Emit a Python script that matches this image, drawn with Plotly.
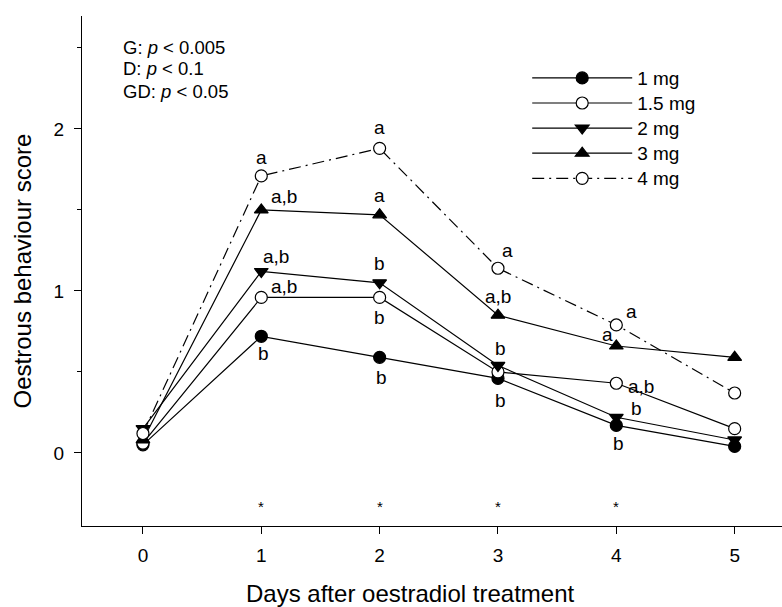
import plotly.graph_objects as go

days = [0, 1, 2, 3, 4, 5]
series_names = ["1 mg", "1.5 mg", "2 mg", "3 mg", "4 mg"]
v_1mg = [0.05, 0.72, 0.59, 0.46, 0.17, 0.04]
v_15mg = [0.06, 0.96, 0.96, 0.50, 0.43, 0.15]
v_2mg = [0.15, 1.12, 1.05, 0.54, 0.22, 0.08]
v_3mg = [0.08, 1.50, 1.47, 0.85, 0.66, 0.59]
v_4mg = [0.12, 1.71, 1.88, 1.14, 0.79, 0.37]

# significance letters (day -> label) for each series
lab_1mg = {1: "b", 2: "b", 3: "b", 4: "b"}
lab_15mg = {1: "a,b", 2: "b", 4: "a,b"}
lab_2mg = {1: "a,b", 2: "b", 3: "b", 4: "b"}
lab_3mg = {1: "a,b", 2: "a", 3: "a,b", 4: "a"}
lab_4mg = {1: "a", 2: "a", 3: "a", 4: "a"}
star_days = [1, 2, 3, 4]
star_level = -0.33
stats_lines = ["G: <i>p</i> < 0.005", "D: <i>p</i> < 0.1", "GD: <i>p</i> < 0.05"]
x_title = "Days after oestradiol treatment"
y_title = "Oestrous behaviour score"

FONT = "Liberation Sans, Arial, sans-serif"

fig = go.Figure()

styles = [
    dict(symbol="circle", fill="black", dash="solid"),
    dict(symbol="circle", fill="white", dash="solid"),
    dict(symbol="triangle-down", fill="black", dash="solid"),
    dict(symbol="triangle-up", fill="black", dash="solid"),
    dict(symbol="circle", fill="white", dash="12px,5px,2px,5px"),
]
values = [v_1mg, v_15mg, v_2mg, v_3mg, v_4mg]

for name, vals, st in zip(series_names, values, styles):
    fig.add_trace(go.Scatter(
        x=days, y=vals,
        name="<span style='font-size:19px'>" + name + "</span>",
        mode="lines+markers",
        line=dict(color="black", width=1.2, dash=st["dash"]),
        marker=dict(symbol=st["symbol"], size=12, color=st["fill"],
                    line=dict(color="black", width=1.2)),
    ))

# letter offsets (px) relative to the point
offsets = {
    "1mg": {1: (2, -17), 2: (2, -20), 3: (3, -22), 4: (2, -18)},
    "15mg": {1: (23, 11), 2: (0, -20), 4: (25, -3)},
    "2mg": {1: (15, 15), 2: (0, 19), 3: (3, 17), 4: (20, 9)},
    "3mg": {1: (23, 13), 2: (0, 19), 3: (0, 19), 4: (-9, 12)},
    "4mg": {1: (0, 18), 2: (0, 21), 3: (10, 18), 4: (15, 13)},
}
for key, vals, labs in [("1mg", v_1mg, lab_1mg), ("15mg", v_15mg, lab_15mg),
                        ("2mg", v_2mg, lab_2mg), ("3mg", v_3mg, lab_3mg),
                        ("4mg", v_4mg, lab_4mg)]:
    for d, txt in labs.items():
        dx, dy = offsets[key][d]
        fig.add_annotation(x=d, y=vals[d], text=txt, showarrow=False,
                           xshift=dx, yshift=dy,
                           font=dict(family=FONT, size=19, color="black"))

for d in star_days:
    fig.add_annotation(x=d, y=star_level, text="*", showarrow=False,
                       font=dict(family=FONT, size=15, color="black"))

for i, line in enumerate(stats_lines):
    fig.add_annotation(xref="paper", yref="paper", x=0.056, y=1 - (47 - 16 + 22 * i) / 510,
                       xanchor="left", yanchor="middle", text=line, showarrow=False,
                       font=dict(family=FONT, size=18.5, color="black"))

# x-axis title as annotation (centred as in the reference)
fig.add_annotation(xref="paper", yref="paper", x=(410 - 82) / 700, y=-(593 - 526) / 510,
                   xanchor="center", yanchor="middle", text=x_title, showarrow=False,
                   font=dict(family=FONT, size=24, color="black"))

fig.update_layout(
    width=782, height=607,
    margin=dict(l=82, r=0, t=16, b=81),
    plot_bgcolor="white", paper_bgcolor="white",
    font=dict(family=FONT, size=19, color="black"),
    showlegend=True,
    legend=dict(x=0.636, y=0.913, xanchor="left", yanchor="top",
                bgcolor="rgba(0,0,0,0)", itemwidth=100, tracegroupgap=0,
                font=dict(family=FONT, size=17)),
    xaxis=dict(range=[-0.515, 5.40], tickvals=days, showline=True,
               linecolor="black", linewidth=1.2, ticks="outside",
               ticklen=7, tickcolor="black", showgrid=False, zeroline=False,
               tickfont=dict(size=19), ticklabelstandoff=5),
    yaxis=dict(range=[-0.451, 2.697], tickvals=[0, 1, 2], showline=True,
               linecolor="black", linewidth=1.2, ticks="outside",
               ticklen=7, tickcolor="black", showgrid=False, zeroline=False,
               tickfont=dict(size=19), ticklabelstandoff=6,
               minor=dict(tickvals=[0.5, 1.5, 2.5], ticks="outside", ticklen=4,
                          tickcolor="black", showgrid=False),
               title=dict(text=y_title, font=dict(size=24), standoff=15)),
)

fig.write_html("out.html", post_script="document.body.style.margin='0';",
               config={"displayModeBar": False})
